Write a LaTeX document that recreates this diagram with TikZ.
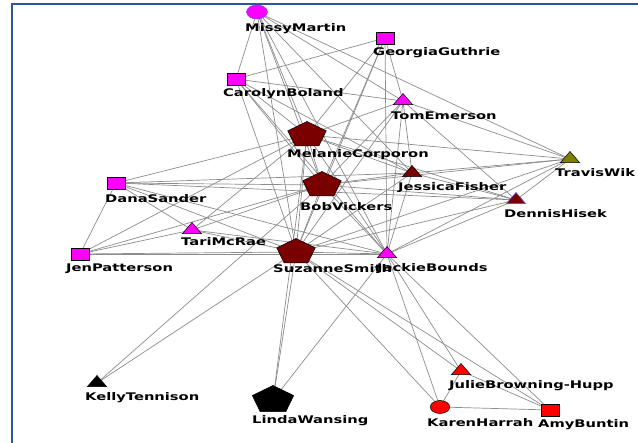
\documentclass[tikz,border=0pt]{standalone}
\usepackage{fontspec}
\setsansfont[FakeStretch=1.4]{DejaVu Sans}
\usepackage{tikz}
\usetikzlibrary{shapes,shapes.geometric,positioning}

\definecolor{nodemagenta}{RGB}{255,0,255}
\definecolor{nodemaroon}{RGB}{122,0,0}
\definecolor{nodeolive}{RGB}{128,128,0}
\definecolor{nodered}{RGB}{255,0,0}
\definecolor{framblue}{RGB}{47,85,151}
\definecolor{rimblue}{RGB}{80,80,255}
\definecolor{edgegray}{RGB}{140,140,140}

\pgfdeclarelayer{bg}
\pgfsetlayers{bg,main}

\begin{document}
\begin{tikzpicture}[
    x=1pt, y=-1pt,
    person/.style={draw=black, line width=0.5pt, inner sep=0pt, xscale=1.5, transform shape},
    pent/.style={person, regular polygon, regular polygon sides=5, minimum size=27pt},
    tri/.style={person, regular polygon, regular polygon sides=3, minimum size=15pt},
    sq/.style={person, rectangle, minimum size=12pt},
    circ/.style={person, circle, minimum size=14pt},
    lbl/.style={anchor=west, inner sep=0pt, font=\sffamily\bfseries\fontsize{10.5}{12}\selectfont},
    edge/.style={draw=edgegray, line width=0.7pt}
]
    \useasboundingbox (0,0) rectangle (638,443);

    % frame
    \draw[framblue, line width=1.6pt] (12,445) -- (12,4) -- (640,4);

    % people
    \node[circ, fill=nodemagenta, draw=rimblue] (mis) at (257,12) {};
    \node[sq, fill=nodemagenta] (geo) at (385,38) {};
    \node[sq, fill=nodemagenta] (car) at (236,79) {};
    \node[tri, fill=nodemagenta] (tom) at (403,101) {};
    \node[pent, fill=nodemaroon] (mel) at (307,135) {};
    \node[tri, fill=nodemaroon] (jes) at (412,173) {};
    \node[tri, fill=nodeolive] (tra) at (570,159) {};
    \node[tri, fill=nodemaroon, draw=rimblue] (den) at (516,200) {};
    \node[sq, fill=nodemagenta] (dan) at (116,183) {};
    \node[pent, fill=nodemaroon] (bob) at (322,185) {};
    \node[tri, fill=nodemagenta] (tar) at (192,230) {};
    \node[sq, fill=nodemagenta] (jen) at (80,254) {};
    \node[pent, fill=nodemaroon] (suz) at (296,252) {};
    \node[tri, fill=nodemagenta] (jac) at (387,254) {};
    \node[tri, fill=black] (kel) at (97,383) {};
    \node[pent, fill=black, minimum size=29pt] (lin) at (273,400) {};
    \node[tri, fill=nodered] (jul) at (461,371) {};
    \node[circ, fill=nodered, minimum size=13pt] (kar) at (440,407) {};
    \node[sq, fill=nodered] (amy) at (550,410) {};

    % names
    \node[lbl] (misL) at (245,29) {MissyMartin};
    \node[lbl] (geoL) at (373,53) {GeorgiaGuthrie};
    \node[lbl] (carL) at (223,94) {CarolynBoland};
    \node[lbl] (tomL) at (391,116) {TomEmerson};
    \node[lbl] (melL) at (287,155) {MelanieCorporon};
    \node[lbl] (jesL) at (398,188) {JessicaFisher};
    \node[lbl] (traL) at (555,173) {TravisWik};
    \node[lbl] (denL) at (504,214) {DennisHisek};
    \node[lbl] (danL) at (105,199) {DanaSander};
    \node[lbl] (bobL) at (300,207) {BobVickers};
    \node[lbl] (tarL) at (181,242) {TariMcRae};
    \node[lbl] (jenL) at (66,269) {JenPatterson};
    \node[lbl] (suzL) at (273,269) {SuzanneSmith};
    \node[lbl] (jacL) at (377,269) {JackieBounds};
    \node[lbl] (kelL) at (85,398) {KellyTennison};
    \node[lbl] (linL) at (252,421) {LindaWansing};
    \node[lbl] (julL) at (449,386) {JulieBrowning-Hupp};
    \node[lbl] (karL) at (427,423) {KarenHarrah};
    \node[lbl] (amyL) at (538,425) {AmyBuntin};

    % ties
    \begin{pgfonlayer}{bg}
    \foreach \a/\b in {mis/car, mis/mel, mis/bob, mis/suz, mis/jac, mis/tom, mis/tra, mis/jes,
        car/geo, car/tom, car/mel, car/bob, car/suz, car/jac, car/jes,
        geo/tom, geo/mel, geo/bob, geo/suz, geo/jac,
        tom/mel, tom/bob, tom/suz, tom/jac, tom/jes, tom/den, tom/tra,
        dan/mel, dan/bob, dan/jes, dan/den, dan/tar, dan/jen, dan/suz, dan/jac,
        mel/bob, mel/suz, mel/jac, mel/jes, mel/den, mel/tra, mel/tar, mel/jen,
        bob/suz, bob/jac, bob/jes, bob/den, bob/tra, bob/tar, bob/jen, bob/kel,
        suz/jac, suz/jes, suz/den, suz/tra, suz/tar, suz/jen, suz/kel, suz/lin,
        suz/kar, suz/amy, suz/jul,
        jac/tar, jac/jen, jac/jes, jac/den, jac/tra, jac/kar, jac/jul, jac/amy, jac/lin,
        jes/den, jes/tra, den/tra, tar/jen, lin/mel,
        kar/jul, kar/amy, jul/amy}
        \draw[edge] (\a.center) -- (\b.center);
    \end{pgfonlayer}
\end{tikzpicture}
\end{document}
